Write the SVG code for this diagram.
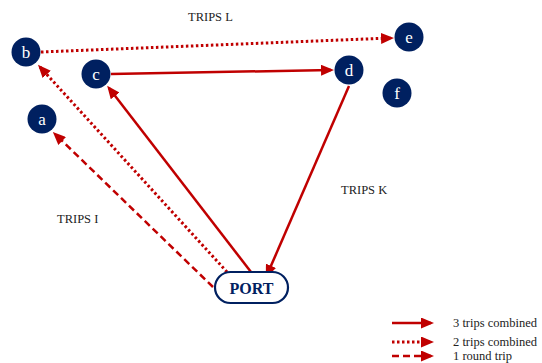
<svg xmlns="http://www.w3.org/2000/svg" width="542" height="363" viewBox="0 0 542 363">
<defs>
<marker id="ah" markerUnits="userSpaceOnUse" markerWidth="13" markerHeight="11" refX="10" refY="5.5" orient="auto">
<path d="M0,0 L13,5.5 L0,11 z" fill="#C00000"/>
</marker>
<style>
.node{fill:#002060;}
text{font-family:"Liberation Serif","Times New Roman","DejaVu Serif",serif;}
.nt{font-size:17px;fill:#ffffff;text-anchor:middle;}
.lbl{font-size:12.5px;fill:#222222;}
.leg{font-size:12.5px;fill:#222222;}
.pt{font-size:16px;font-weight:bold;fill:#002060;text-anchor:middle;}
.c{stroke:#C00000;fill:none;marker-end:url(#ah);}
.solid{stroke-width:2.5;}
.dot{stroke-width:3;stroke-dasharray:2.5,2.5;}
.dash{stroke-width:2.5;stroke-dasharray:7,4;}
</style>
</defs>
<rect width="542" height="363" fill="#ffffff"/>
<g id="connectors">
<line class="c dot" x1="41" y1="52" x2="391" y2="38"/>
<line class="c solid" x1="111" y1="74" x2="331" y2="70"/>
<line class="c solid" x1="349" y1="86" x2="267" y2="275"/>
<line class="c solid" x1="251" y1="272" x2="109" y2="88"/>
<line class="c dot" x1="227" y1="272" x2="40" y2="67"/>
<line class="c dash" x1="213" y1="287" x2="55" y2="134"/>
</g>
<g id="node-a"><circle class="node" cx="42" cy="119" r="14.5"/><text class="nt" x="42" y="125">a</text></g>
<g id="node-b"><circle class="node" cx="26" cy="52" r="14.5"/><text class="nt" x="26" y="58">b</text></g>
<g id="node-c"><circle class="node" cx="96" cy="74" r="14.5"/><text class="nt" x="96" y="80">c</text></g>
<g id="node-d"><circle class="node" cx="349" cy="70" r="14.5"/><text class="nt" x="349" y="76">d</text></g>
<g id="node-e"><circle class="node" cx="409" cy="37" r="14.5"/><text class="nt" x="409" y="43">e</text></g>
<g id="node-f"><circle class="node" cx="397" cy="93" r="14.5"/><text class="nt" x="397" y="99">f</text></g>
<g id="node-port"><rect x="215" y="272" width="73" height="31" rx="15.5" fill="#ffffff" stroke="#002060" stroke-width="2.2"/><text class="pt" x="251.5" y="294">PORT</text></g>
<g id="labels">
<text class="lbl" x="188" y="21">TRIPS L</text>
<text class="lbl" x="341" y="194">TRIPS K</text>
<text class="lbl" x="57" y="223">TRIPS I</text>
</g>
<g id="legend">
<line class="c solid" x1="392" y1="323" x2="431" y2="323"/>
<line class="c dot" x1="392" y1="342" x2="431" y2="342"/>
<line class="c dash" x1="392" y1="356" x2="431" y2="356"/>
<text class="leg" x="453" y="327">3 trips combined</text>
<text class="leg" x="453" y="346">2 trips combined</text>
<text class="leg" x="453" y="360">1 round trip</text>
</g>
</svg>
